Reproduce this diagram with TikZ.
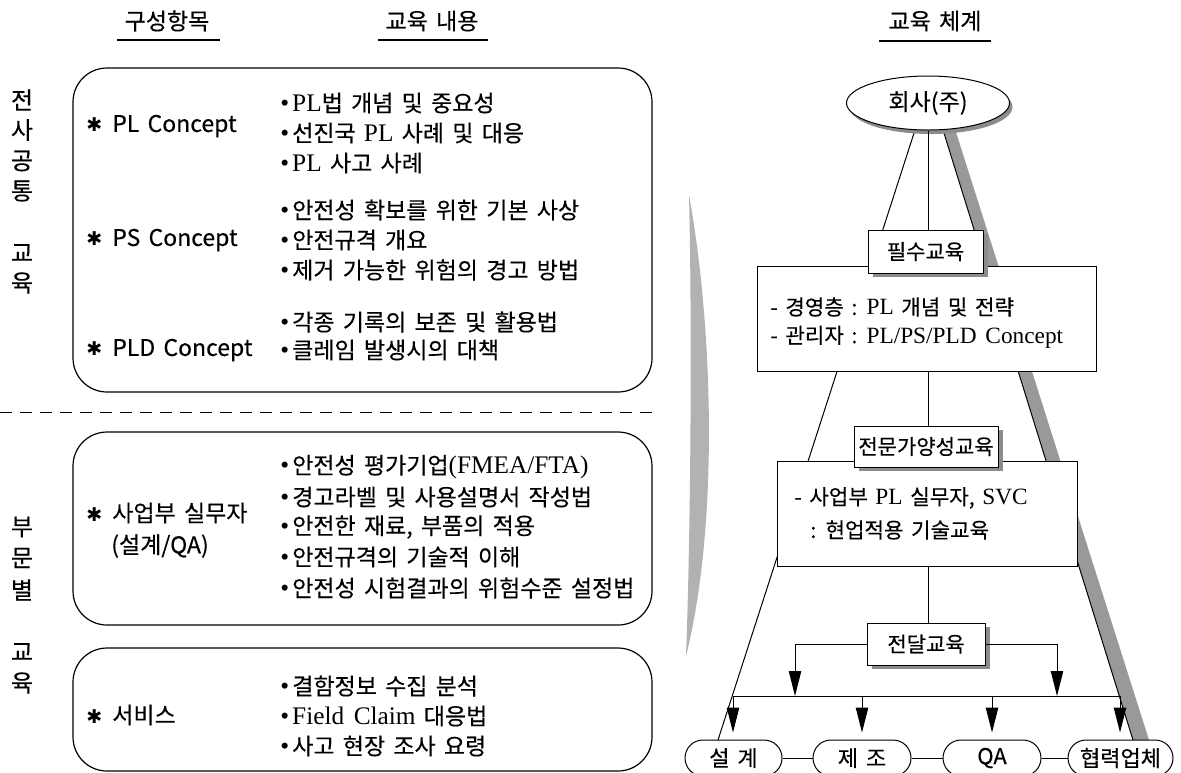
\documentclass[tikz,border=0pt]{standalone}
\usepackage{fontspec}
\setmainfont{Noto Sans CJK KR}[WordSpace=1.6,FakeBold=0.3]
\newfontfamily\lser{Liberation Serif}[WordSpace=1.5,Scale=1.1]
\newfontfamily\djv{DejaVu Sans}
\usetikzlibrary{arrows.meta,shapes.geometric,shadows}
\newcommand\fsz[1]{\fontsize{#1}{#1}\selectfont}
\newcommand\lat[1]{{\lser #1}}
\newcommand\bul{{\lser •}\hspace{1.5pt}}
\newcommand\stmark{{\djv\fsz{9.5}✱}\hspace{5pt}}
\begin{document}
\begin{tikzpicture}[x=0.5pt,y=-0.5pt,
  txt/.style={inner sep=0pt, anchor=west, font=\fsz{11.5}},
  rtxt/.style={inner sep=0pt, anchor=west, font=\fsz{10.6}},
  item/.style={inner sep=0pt, anchor=west, font=\fsz{11.5}},
  head/.style={inner sep=0pt, font=\fsz{11.5}},
  side/.style={inner sep=0pt, font=\fsz{12}},
  rbox/.style={draw, line width=0.6pt, rounded corners=17pt},
  uline/.style={line width=0.6pt},
  tline/.style={line width=0.5pt},
  shd/.style={drop shadow={shadow xshift=2.5pt, shadow yshift=-2pt, fill=black!45, opacity=1}},
  lab/.style={draw, fill=white, line width=0.5pt, inner sep=0pt, font=\fsz{10.5}, shd},
  bigbox/.style={draw, fill=white, line width=0.5pt, inner sep=0pt},
  leaf/.style={draw, fill=white, line width=0.5pt, rounded corners=9pt, inner sep=0pt, font=\fsz{11}, minimum height=18pt},
  arr/.style={-{Triangle[length=12.5pt,width=6.2pt]}, line width=0.5pt},
  shade/.style={fill=black!40, draw=none}
]
\useasboundingbox (0,0) rectangle (1181,772);

% ---------- headers ----------
\node[head] (h1) at (167,21) {구성항목};
\draw[uline] (117,40) -- (220,40);
\node[head] (h2) at (432,21) {교육 내용};
\draw[uline] (378,40) -- (488,40);
\node[head] (h3) at (935,21) {교육 체계};
\draw[uline] (879,41) -- (991,41);

% ---------- left vertical labels ----------
\node[side] (v1) at (22,100) {전};
\node[side] (v2) at (22,130) {사};
\node[side] (v3) at (22,161) {공};
\node[side] (v4) at (22,191) {통};
\node[side] (v5) at (22,253) {교};
\node[side] (v6) at (22,283) {육};
\node[side] (w1) at (22,527) {부};
\node[side] (w2) at (22,558) {문};
\node[side] (w3) at (22,590) {별};
\node[side] (w4) at (22,652) {교};
\node[side] (w5) at (22,683) {육};

% ---------- left boxes ----------
\draw[rbox] (73,68) rectangle (652,392);
\draw[rbox] (73,432) rectangle (652,625);
\draw[rbox] (73,648) rectangle (652,771);
\draw[tline, dash pattern=on 6pt off 4pt] (0,412) -- (655,412);

\node[item] (c1) at (86,126) {\stmark PL Concept};
\node[txt] (c1a) at (280,103) {\bul\lat{PL}법 개념 및 중요성};
\node[txt] (c1b) at (280,133) {\bul 선진국 \lat{PL} 사례 및 대응};
\node[txt] (c1c) at (280,163) {\bul\lat{PL} 사고 사례};

\node[item] (c2) at (86,240) {\stmark PS Concept};
\node[txt] (c2a) at (280,210) {\bul 안전성 확보를 위한 기본 사상};
\node[txt] (c2b) at (280,240) {\bul 안전규격 개요};
\node[txt] (c2c) at (280,270) {\bul 제거 가능한 위험의 경고 방법};

\node[item] (c3) at (86,350) {\stmark PLD Concept};
\node[txt] (c3a) at (280,322) {\bul 각종 기록의 보존 및 활용법};
\node[txt] (c3b) at (280,350) {\bul 클레임 발생시의 대책};

\node[item] (d1) at (86,513) {\stmark 사업부 실무자};
\node[inner sep=0pt, font=\fsz{11.5}] (d1s) at (160,546) {(설계/QA)};
\node[txt] (d1a) at (280,467) {\bul 안전성 평가기업\lat{(FMEA/FTA)}};
\node[txt] (d1b) at (280,497) {\bul 경고라벨 및 사용설명서 작성법};
\node[txt] (d1c) at (280,527) {\bul 안전한 재료, 부품의 적용};
\node[txt] (d1d) at (280,557) {\bul 안전규격의 기술적 이해};
\node[txt] (d1e) at (280,588) {\bul 안전성 시험결과의 위험수준 설정법};

\node[item] (e1) at (86,715) {\stmark 서비스};
\node[txt] (e1a) at (280,686) {\bul 결함정보 수집 분석};
\node[txt] (e1b) at (280,716) {\bul\lat{Field Claim} 대응법};
\node[txt] (e1c) at (280,746) {\bul 사고 현장 조사 요령};

% ---------- gray lens separator ----------
\fill[black!30] (689,195) .. controls (712,320) and (720,520) .. (686,656)
  .. controls (691,520) and (692,320) .. (689,195) -- cycle;

% ---------- right tree ----------
\coordinate (tl) at (915,130);
\coordinate (tr) at (943,130);
\coordinate (bl) at (718,740);
\coordinate (br) at (1133,740);
\fill[shade] (943,129) -- (1133,740) -- (1149,740) -- (955,129) -- cycle;
\draw[tline] (tl) -- (bl);
\draw[tline] (tr) -- (br);

\node[ellipse, draw, fill=white, line width=0.5pt, minimum width=81.5pt, minimum height=27pt, inner sep=0pt, font=\fsz{11.5},
  drop shadow={shadow xshift=1.5pt, shadow yshift=-2pt, fill=black!45, opacity=1}] (ell) at (928,103) {회사(주)};

\node[bigbox, minimum width=169.5pt, minimum height=52.5pt] (box1) at (926.5,318.5) {};
\node[rtxt] (t1a) at (770,307) {- 경영층 : \lat{PL}\ 개념 및 전략};
\node[rtxt] (t1b) at (770,337) {- 관리자 : \lat{PL/PS/PLD Concept}};
\node[lab, minimum width=57.5pt, minimum height=21.5pt] (lab1) at (925.5,251.5) {필수교육};

\node[bigbox, minimum width=150pt, minimum height=52.5pt] (box2) at (927,513.5) {};
\node[rtxt] (t2a) at (794,498) {- 사업부 \lat{PL}\ 실무자, \lat{SVC}};
\node[rtxt] (t2b) at (810,530) {: 현업적용 기술교육};
\node[lab, minimum width=72pt, minimum height=20.5pt] (lab2) at (926,446.5) {전문가양성교육};

\node[lab, minimum width=59pt, minimum height=21pt] (lab3) at (926,644) {전달교육};

\draw[tline] (ell.south) -- (ell.south |- lab1.north);
\draw[tline] (ell.south |- box1.south) -- (ell.south |- lab2.north);
\draw[tline] (ell.south |- box2.south) -- (ell.south |- lab3.north);

\node[leaf, minimum width=48.5pt] (b1) at (733.5,758) {설 계};
\node[leaf, minimum width=49pt] (b2) at (862,758) {제 조};
\node[leaf, minimum width=49pt] (b3) at (992,758) {QA};
\node[leaf, minimum width=52.5pt] (b4) at (1120.5,758) {협력업체};

\coordinate (q1) at (795,696);
\coordinate (q2) at (1057,696);
\coordinate (p1) at (733,696);
\coordinate (p2) at (862,696);
\coordinate (p3) at (992,696);
\coordinate (p4) at (1120,696);
\draw[tline] (p1) -- (p4);
\draw[arr] (lab3.west) -| (q1);
\draw[arr] (lab3.east) -| (q2);
\draw[arr, shorten >=3.5pt] (p1) -- (p1 |- b1.north);
\draw[arr, shorten >=3.5pt] (p2) -- (p2 |- b2.north);
\draw[arr, shorten >=3.5pt] (p3) -- (p3 |- b3.north);
\draw[arr, shorten >=3.5pt] (p4) -- (p4 |- b4.north);

\draw[tline] (b1.east) -- (b2.west);
\draw[tline] (b2.east) -- (b3.west);
\draw[tline] (b3.east) -- (b4.west);
\end{tikzpicture}
\end{document}
